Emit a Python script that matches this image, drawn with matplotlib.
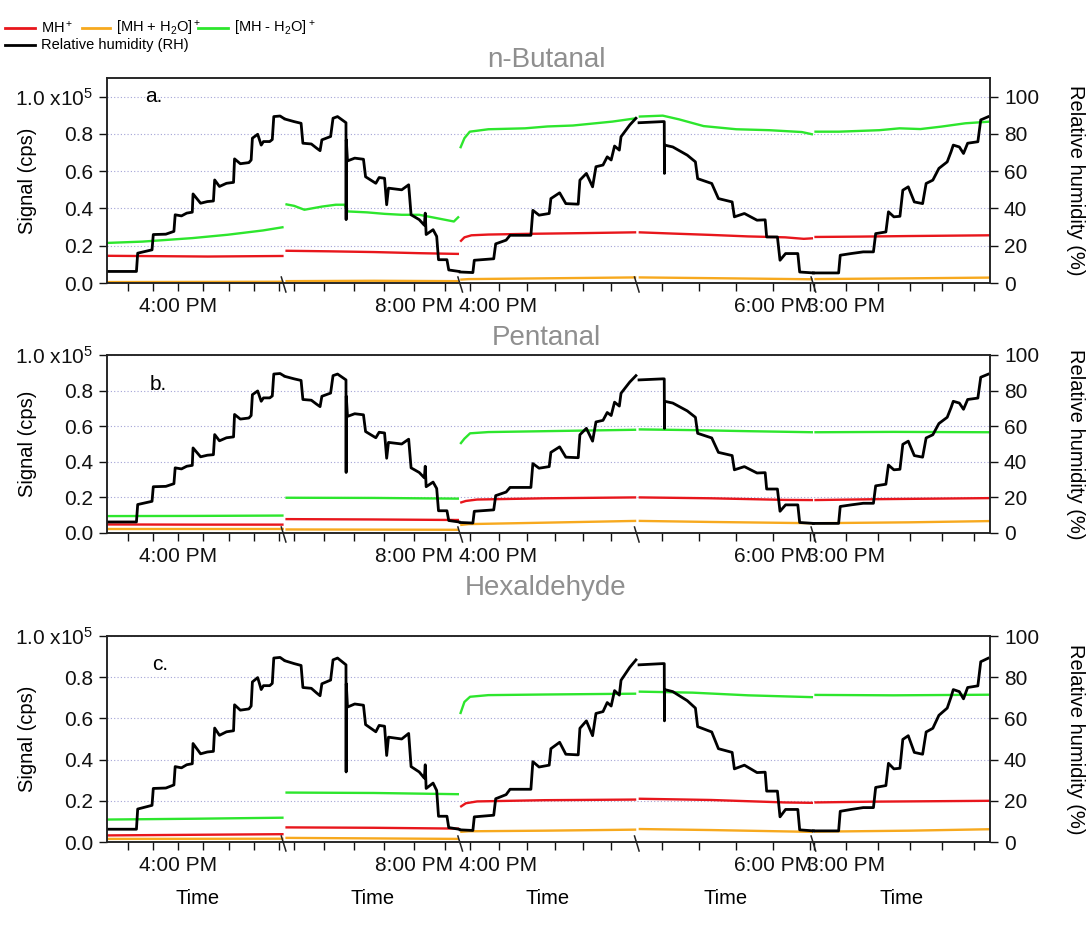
import numpy as np
import matplotlib.pyplot as plt
import matplotlib.transforms as mtransforms
from matplotlib.lines import Line2D

plt.rcParams['font.family'] = ['Liberation Sans', 'DejaVu Sans']
plt.rcParams['mathtext.fontset'] = 'custom'
plt.rcParams['mathtext.rm'] = 'Liberation Sans'
plt.rcParams['mathtext.default'] = 'regular'

# broken time axis: 5 segments, clock start (minutes of day) and length (minutes)
seg_start = [931.7, 1156.6, 946.4, 1043.2, 889.7]
seg_len = [70.2, 58.6, 62.7, 47.6, 55.3]
seg_label_time = [960, 1200, 960, 1080, 900]
seg_label_text = ['4:00 PM', '8:00 PM', '4:00 PM', '6:00 PM', '3:00 PM']

# relative humidity (%), (minutes from segment start, RH) - same run in all panels
rh = [
    [(0, 6.2), (11.7, 6.2), (12.2, 16), (17.9, 17.8), (18.4, 26), (23.4, 26.2), (26.6, 27.7),
     (27.1, 36.6), (29.6, 36), (31.7, 37.5), (33.9, 38), (34.2, 47.8), (37.2, 42.8), (39.9, 43.7),
     (42.3, 44), (42.8, 55.3), (44.7, 51.8), (47.5, 53.5), (50.3, 54), (50.7, 66.6), (53.0, 64),
     (56.4, 64.6), (57.3, 66), (57.8, 77.7), (59.9, 79.8), (61.3, 74), (62.2, 75.9), (64.7, 75.9),
     (65.7, 77), (66.3, 89.3), (68.8, 89.6), (70.2, 88.4)],
    [(0.6, 87.9), (3.5, 86.6), (5.8, 85.7), (6.4, 75), (9.2, 74.6), (11.0, 72.3), (12.1, 71),
     (12.7, 76.8), (15.6, 78.6), (16.4, 88.4), (17.9, 89.3), (20.2, 86.6), (20.7, 86), (20.75, 34),
     (20.8, 76.8), (21.2, 65.5), (23.6, 67), (26.5, 66.4), (27.2, 57), (30.6, 53.5), (31.7, 56.6),
     (33.5, 56.2), (34.2, 42), (34.8, 50.9), (39.2, 50), (41.5, 52.7), (42.3, 36.6), (45.0, 34),
     (46.7, 31), (47.0, 37.5), (47.3, 26), (49.6, 28.6), (50.8, 25), (51.4, 12.5), (54.2, 12.5),
     (54.8, 7), (58.2, 6.2)],
    [(0, 5.9), (4.5, 5.6), (5.0, 12.2), (11.9, 13), (12.6, 21), (16.3, 23), (17.7, 25.6),
     (25.1, 25.6), (25.8, 39), (28.0, 36.4), (31.6, 37.3), (32.2, 45.3), (35.3, 48.4), (37.5, 42.6),
     (41.9, 42.3), (42.5, 55.2), (44.8, 58.8), (47.0, 51.6), (48.2, 62.4), (50.7, 63.3),
     (52.2, 67.7), (53.6, 66), (54.8, 73.5), (56.5, 71.3), (57.1, 78.5), (60.2, 84.8), (62.4, 88.4)],
    [(0.6, 86), (7.0, 86.6), (7.4, 86.6), (7.45, 58.8), (7.5, 74), (9.7, 73), (13.6, 68.6),
     (15.8, 65), (16.4, 56), (20.2, 53.4), (22.0, 45.3), (25.7, 43.5), (26.3, 35.5), (29.0, 37.3),
     (32.4, 33.7), (34.6, 33.9), (35.0, 24.7), (37.9, 24.7), (38.6, 12.2), (40.1, 15.8),
     (43.4, 15.8), (43.9, 5.9), (47.6, 5.4)],
    [(0, 5.4), (7.9, 5.4), (8.4, 14.9), (11.8, 15.8), (15.6, 16.7), (18.8, 16.7), (19.5, 26.5),
     (22.7, 27.4), (23.5, 38.2), (25.2, 35.5), (27.1, 35.8), (28.0, 49.8), (29.7, 51.6),
     (31.6, 43.5), (34.2, 42.6), (35.3, 53.4), (37.4, 55.2), (39.3, 61.5), (41.9, 65), (43.1, 70.4),
     (43.8, 74), (45.7, 73), (47.0, 69.5), (48.3, 75), (51.5, 75.8), (52.4, 87.5), (54.7, 89.2)],
]

# signals (x1e5 cps), per segment: (minutes from segment start, value)
butanal_mh = [
    [(0, 0.146), (20, 0.144), (40, 0.142), (60, 0.144), (70.2, 0.145)],
    [(0.6, 0.173), (15, 0.170), (30, 0.166), (45, 0.160), (58.2, 0.156)],
    [(0, 0.222), (1.5, 0.245), (4, 0.256), (10, 0.260), (25, 0.264), (45, 0.268), (62.5, 0.272)],
    [(0.5, 0.272), (10, 0.265), (20, 0.258), (30, 0.250), (40, 0.245), (45, 0.237), (47.5, 0.240)],
    [(0.3, 0.247), (15, 0.249), (30, 0.252), (55.3, 0.256)],
]
butanal_mh_h2o = [
    [(0, 0.005), (35, 0.006), (70.2, 0.007)],
    [(0.6, 0.010), (30, 0.012), (58.2, 0.010)],
    [(0, 0.018), (3, 0.021), (30, 0.025), (62.5, 0.030)],
    [(0.5, 0.030), (20, 0.026), (47.5, 0.020)],
    [(0.3, 0.021), (30, 0.025), (55.3, 0.029)],
]
butanal_mh_minus = [
    [(0, 0.215), (14, 0.222), (34, 0.241), (48, 0.259), (62, 0.282), (70.2, 0.300)],
    [(0.6, 0.423), (3.5, 0.414), (6.9, 0.393), (12.7, 0.41), (17.3, 0.42), (20.2, 0.42),
     (21.3, 0.384), (27.7, 0.379), (33.5, 0.371), (39.2, 0.366), (45, 0.366), (50.8, 0.348),
     (56.5, 0.330), (58.2, 0.357)],
    [(0, 0.723), (1.5, 0.777), (3.4, 0.812), (10, 0.825), (23, 0.830), (31, 0.84), (40, 0.845),
     (54, 0.866), (62.5, 0.884)],
    [(0.5, 0.893), (7, 0.898), (11.4, 0.878), (18, 0.842), (26.8, 0.825), (35.7, 0.82),
     (44.5, 0.81), (47.5, 0.797)],
    [(0.3, 0.812), (8, 0.812), (20.7, 0.82), (27, 0.83), (33.5, 0.826), (40, 0.839),
     (47.6, 0.857), (55.3, 0.866)],
]

pentanal_mh = [
    [(0, 0.048), (35, 0.047), (70.2, 0.047)],
    [(0.6, 0.078), (30, 0.076), (58.2, 0.073)],
    [(0, 0.170), (2, 0.180), (6, 0.188), (30, 0.195), (62.5, 0.200)],
    [(0.5, 0.200), (20, 0.195), (40, 0.186), (47.5, 0.185)],
    [(0.3, 0.185), (20, 0.190), (55.3, 0.196)],
]
pentanal_mh_h2o = [
    [(0, 0.020), (70.2, 0.020)],
    [(0.6, 0.020), (58.2, 0.018)],
    [(0, 0.045), (3, 0.050), (30, 0.058), (62.5, 0.068)],
    [(0.5, 0.068), (20, 0.062), (47.5, 0.055)],
    [(0.3, 0.055), (30, 0.060), (55.3, 0.067)],
]
pentanal_mh_minus = [
    [(0, 0.095), (35, 0.096), (70.2, 0.098)],
    [(0.6, 0.198), (30, 0.197), (58.2, 0.193)],
    [(0, 0.500), (1.5, 0.530), (3.5, 0.560), (10, 0.567), (30, 0.572), (62.5, 0.580)],
    [(0.5, 0.582), (15, 0.578), (30, 0.572), (47.5, 0.566)],
    [(0.3, 0.566), (25, 0.568), (55.3, 0.566)],
]

hexanal_mh = [
    [(0, 0.032), (35, 0.035), (70.2, 0.038)],
    [(0.6, 0.071), (30, 0.069), (58.2, 0.065)],
    [(0, 0.170), (2, 0.188), (6, 0.197), (30, 0.203), (62.5, 0.206)],
    [(0.5, 0.210), (20, 0.204), (40, 0.192), (47.5, 0.190)],
    [(0.3, 0.192), (20, 0.196), (55.3, 0.200)],
]
hexanal_mh_h2o = [
    [(0, 0.015), (70.2, 0.016)],
    [(0.6, 0.020), (58.2, 0.015)],
    [(0, 0.049), (3, 0.052), (30, 0.055), (62.5, 0.060)],
    [(0.5, 0.063), (20, 0.058), (47.5, 0.049)],
    [(0.3, 0.050), (30, 0.055), (55.3, 0.062)],
]
hexanal_mh_minus = [
    [(0, 0.109), (35, 0.113), (70.2, 0.118)],
    [(0.6, 0.240), (30, 0.238), (58.2, 0.232)],
    [(0, 0.621), (1.5, 0.680), (3.5, 0.705), (10, 0.713), (30, 0.716), (62.5, 0.720)],
    [(0.5, 0.730), (15, 0.725), (30, 0.712), (47.5, 0.703)],
    [(0.3, 0.714), (25, 0.712), (55.3, 0.715)],
]

titles = ['n-Butanal', 'Pentanal', 'Hexaldehyde']
letters = ['a.', 'b.', 'c.']
signals = [
    (butanal_mh, butanal_mh_h2o, butanal_mh_minus),
    (pentanal_mh, pentanal_mh_h2o, pentanal_mh_minus),
    (hexanal_mh, hexanal_mh_h2o, hexanal_mh_minus),
]
y_top = [1.10, 1.0, 1.0]

RED, ORANGE, GREEN = '#e8161c', '#f7a91e', '#2de62d'
W, H = 1091, 940


def seg_xy(seg, pts):
    m = np.array([p[0] for p in pts])
    v = np.array([p[1] for p in pts])
    return seg + m / seg_len[seg], v


fig = plt.figure(figsize=(W / 100, H / 100), dpi=100)

# axes boxes in pixels: (top, bottom)
boxes = [(78, 283), (355, 533), (636, 842)]
x_left, x_right = 107, 990
title_y = [60, 338, 588]
letter_y = [96, 384, 664]
letter_x = [145, 150, 152]

# tick positions every 10 min
tick_pos, tick_lab = [], []
for s in range(5):
    t = np.ceil(seg_start[s] / 10) * 10
    while t <= seg_start[s] + seg_len[s]:
        tick_pos.append(s + (t - seg_start[s]) / seg_len[s])
        tick_lab.append(seg_label_text[s] if t == seg_label_time[s] else '')
        t += 10

for i in range(3):
    top, bot = boxes[i]
    ax = fig.add_axes([x_left / W, 1 - bot / H, (x_right - x_left) / W, (bot - top) / H])
    ax2 = ax.twinx()
    ax.set_xlim(0, 5)
    ax.set_ylim(0, y_top[i])
    ax2.set_ylim(0, y_top[i] * 100)

    mh, mh_h2o, mh_minus = signals[i]
    for s in range(5):
        for series, col in ((mh_minus[s], GREEN), (mh[s], RED), (mh_h2o[s], ORANGE)):
            x, y = seg_xy(s, series)
            ax.plot(x, y, color=col, lw=1.7, solid_capstyle='butt')
        x, y = seg_xy(s, rh[s])
        ax2.plot(x, y, color='black', lw=2.0)

    ax.set_yticks([0, 0.2, 0.4, 0.6, 0.8, 1.0])
    ax.set_yticklabels(['0.0', '0.2', '0.4', '0.6', '0.8', '1.0 x10$^5$'])
    ax2.set_yticks([0, 20, 40, 60, 80, 100])
    ax.set_xticks(tick_pos)
    ax.set_xticklabels(tick_lab)
    ax.grid(axis='y', color='#a3a3d6', linestyle=(0, (1, 2)), lw=0.8)
    ax.set_axisbelow(True)
    for a in (ax, ax2):
        a.tick_params(direction='out', length=6, width=1, labelsize=15, colors='#111111', pad=4)
        for sp in a.spines.values():
            sp.set_color('#222222')
            sp.set_linewidth(1.1)

    ax.set_ylabel('Signal (cps)', fontsize=14.5)
    ax.yaxis.set_label_coords((37 - x_left) / (x_right - x_left), 0.5)
    ax2.set_ylabel('Relative humidity (%)', fontsize=14.5, rotation=270, va='center')
    ax2.yaxis.set_label_coords((1075 - x_left) / (x_right - x_left), 0.5)

    # axis break marks
    trans = mtransforms.blended_transform_factory(ax.transData, ax.transAxes)
    hpx = bot - top
    for b in range(1, 5):
        ax.add_line(Line2D([b - 0.013, b + 0.013], [6 / hpx, -9 / hpx], transform=trans,
                           color='#222222', lw=1.1, clip_on=False))

    ax.text((letter_x[i] - x_left) / (x_right - x_left), (bot - letter_y[i]) / hpx, letters[i],
            transform=ax.transAxes, fontsize=15, ha='left', va='center')
    fig.text(546 / W, 1 - title_y[i] / H, titles[i], fontsize=20, color='#8f8f8f',
             ha='center', va='center')

for xp in [198, 373, 548, 726, 902]:
    fig.text(xp / W, 1 - 898 / H, 'Time', fontsize=14.5, ha='center', va='center')

# legend
leg_rows = [
    [(5, 35, RED, 'MH$^+$'), (82, 110, ORANGE, '[MH + H$_2$O]$^+$'),
     (198, 228, GREEN, '[MH - H$_2$O]$^+$')],
    [(5, 35, 'black', 'Relative humidity (RH)')],
]
for row, yp in zip(leg_rows, [28, 45]):
    for x0, x1, col, lab in row:
        fig.add_artist(Line2D([x0 / W, x1 / W], [1 - yp / H] * 2, transform=fig.transFigure,
                              color=col, lw=2))
        fig.text((x1 + 6) / W, 1 - yp / H, lab, fontsize=10.5, ha='left', va='center')

fig.savefig('out.png', dpi=100)
